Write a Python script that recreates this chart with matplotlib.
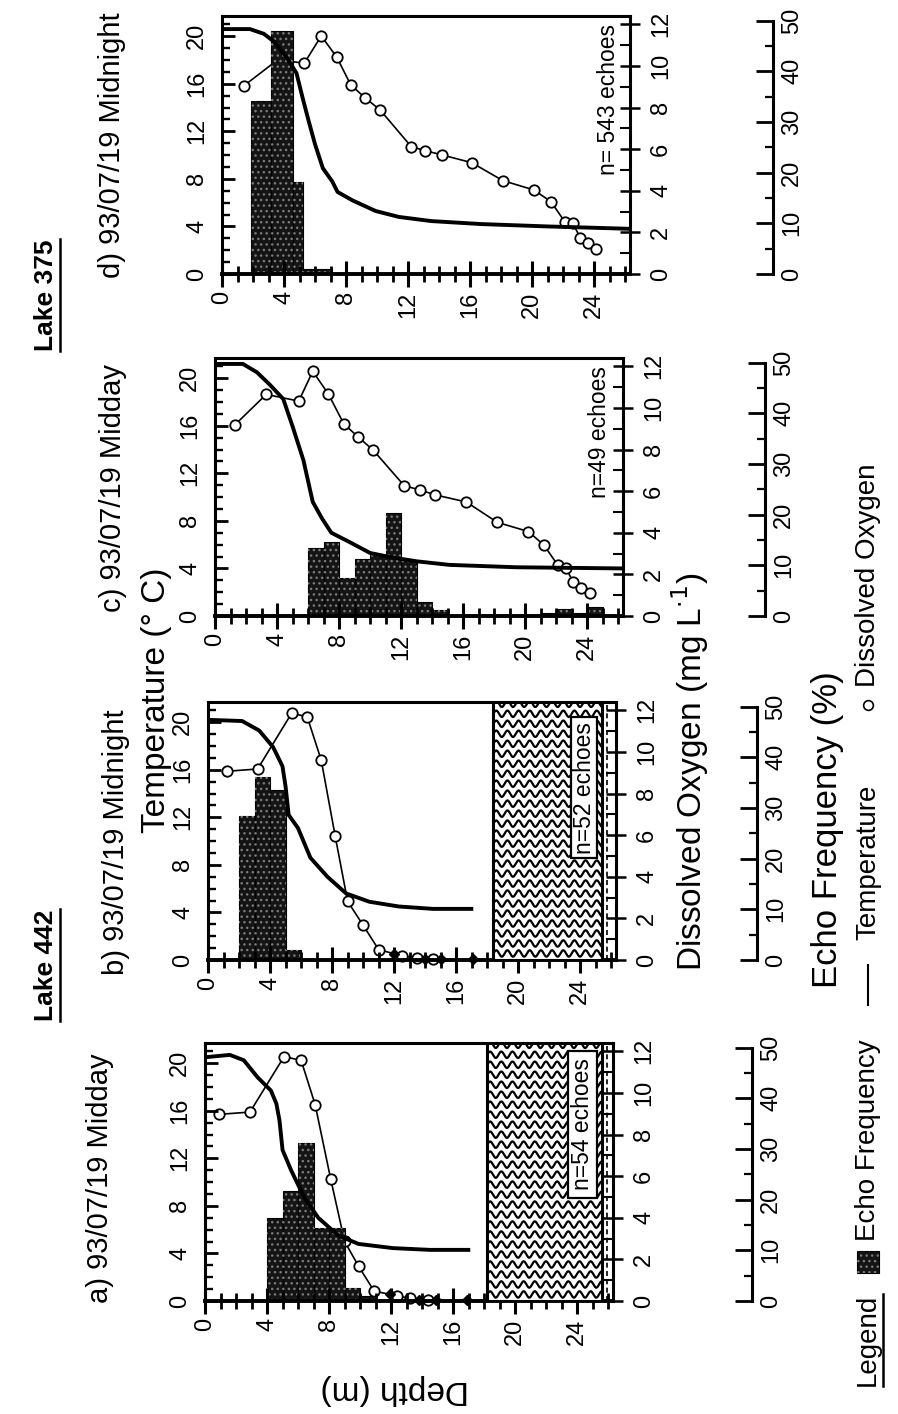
import numpy as np
import matplotlib
matplotlib.use("Agg")
import matplotlib.pyplot as plt
from matplotlib.patches import Rectangle
from matplotlib.lines import Line2D
from matplotlib.ticker import MultipleLocator

plt.rcParams['font.family'] = ['Liberation Sans', 'DejaVu Sans']
plt.rcParams['hatch.linewidth'] = 1.0

# ---------------- data ----------------
# Lake 442, midday (a)
a_temp_depth = [0.0, 1.6, 2.5, 3.4, 4.25, 4.6, 4.8, 5.0, 5.55, 6.4, 7.3, 8.6, 9.9, 12.1, 14.5, 17.1]
a_temp = [20.5, 20.7, 20.25, 18.8, 17.7, 16.6, 15.2, 12.7, 11.0, 8.7, 7.0, 5.5, 4.8, 4.45, 4.3, 4.3]
a_do_depth = [0.9, 2.9, 5.1, 6.2, 7.1, 8.1, 9.0, 9.9, 10.9, 12.4, 13.2, 14.4]
a_do = [8.97, 9.08, 11.75, 11.56, 9.44, 5.87, 2.86, 1.67, 0.48, 0.24, 0.13, 0.03]
a_anoxic_depth = [11.9, 13.8, 14.9, 16.9]
a_anoxic_do = [0.35, 0.05, 0.05, 0.05]
a_bin_lo = [4, 5, 6, 7, 8, 9, 10]
a_bin_hi = [5, 6, 7, 8, 9, 10, 11]
a_echo = [16.3, 21.8, 31.2, 14.4, 14.4, 2.6, 1.0]

# Lake 442, midnight (b)
b_temp_depth = [0.0, 2.2, 3.3, 4.2, 4.8, 5.0, 5.2, 5.8, 6.6, 7.7, 8.9, 10.4, 12.3, 14.5, 17.1]
b_temp = [20.2, 20.1, 19.3, 17.9, 16.3, 14.6, 12.2, 11.1, 8.6, 7.0, 5.6, 4.9, 4.5, 4.3, 4.3]
b_do_depth = [1.2, 3.2, 5.4, 6.4, 7.3, 8.2, 9.0, 10.0, 11.0, 12.5, 13.5, 14.5]
b_do = [9.07, 9.18, 11.87, 11.68, 9.6, 5.95, 2.82, 1.67, 0.5, 0.2, 0.1, 0.05]
b_anoxic_depth = [12.0, 14.0, 15.0, 17.1]
b_anoxic_do = [0.3, 0.05, 0.05, 0.05]
b_bin_lo = [2, 3, 4, 5]
b_bin_hi = [3, 4, 5, 6]
b_echo = [28.4, 36.1, 33.5, 2.0]

# Lake 375, midday (c)
c_temp_depth = [0.0, 1.8, 2.7, 3.5, 4.4, 5.0, 5.7, 6.3, 6.9, 7.5, 8.7, 10.0, 11.3, 13.0, 15.1, 19.4, 26.3]
c_temp = [21.2, 21.2, 20.5, 19.5, 18.25, 15.95, 13.1, 9.6, 8.2, 7.0, 6.2, 5.3, 4.95, 4.6, 4.3, 4.1, 4.0]
c_do_depth = [1.3, 3.3, 5.4, 6.3, 7.3, 8.3, 9.2, 10.2, 12.2, 13.2, 14.2, 16.2, 18.2, 20.2, 21.2,
              22.1, 22.6, 23.1, 23.6, 24.2]
c_do = [9.2, 10.65, 10.33, 11.76, 10.68, 9.24, 8.62, 7.97, 6.26, 6.06, 5.82, 5.48, 4.5, 4.06, 3.41,
        2.44, 2.33, 1.62, 1.35, 1.09]
c_bin_lo = [6, 7, 8, 9, 10, 11, 12, 13, 14, 21, 22, 23, 24]
c_bin_hi = [7, 8, 9, 10, 11, 12, 13, 14, 15, 22, 23, 24, 25]
c_echo = [13.4, 14.6, 7.5, 11.2, 12.0, 20.3, 10.8, 2.8, 1.2, 0.5, 1.3, 0.5, 1.8]

# Lake 375, midnight (d)
d_temp_depth = [0.0, 1.8, 2.7, 3.4, 4.15, 4.8, 5.2, 5.6, 6.0, 6.5, 7.1, 7.45, 8.4, 9.9, 11.4, 13.5,
                16.7, 21.0, 26.3]
d_temp = [20.6, 20.6, 20.2, 19.5, 18.25, 16.9, 14.8, 12.8, 10.9, 8.9, 7.8, 6.9, 6.2, 5.3, 4.8, 4.45,
          4.2, 4.0, 3.8]
d_do_depth = [1.4, 3.6, 5.3, 6.4, 7.4, 8.3, 9.2, 10.2, 12.2, 13.1, 14.2, 16.1, 18.1, 20.1, 21.2,
              22.1, 22.6, 23.1, 23.6, 24.1]
d_do = [9.04, 10.3, 10.13, 11.44, 10.42, 9.09, 8.48, 7.88, 6.12, 5.93, 5.72, 5.35, 4.49, 4.04, 3.48,
        2.51, 2.47, 1.72, 1.48, 1.19]
d_bin_lo = [1.85, 3.15, 4.55, 5.2]
d_bin_hi = [3.15, 4.55, 5.2, 7.1]
d_echo = [34.2, 47.9, 18.2, 1.0]

titles = ["a) 93/07/19 Midday", "b) 93/07/19 Midnight", "c) 93/07/19 Midday", "d) 93/07/19 Midnight"]
echo_counts = ["n=54 echoes", "n=52 echoes", "n=49 echoes", "n= 543 echoes"]
lake_names = ["Lake 442", "Lake 375"]
bottom_a = (18.2, 25.6)     # lake-bed zone, Lake 442 midday
bottom_b = (18.4, 25.4)     # lake-bed zone, Lake 442 midnight

depth_ticks = [0, 4, 8, 12, 16, 20, 24]
temp_ticks = [0, 4, 8, 12, 16, 20]
do_ticks = [0, 2, 4, 6, 8, 10, 12]
echo_ticks = [0, 10, 20, 30, 40, 50]

# ---------------- layout ----------------
W, H = 898, 1414
fig = plt.figure(figsize=(W / 100, H / 100), dpi=100)
fig.patch.set_facecolor('white')

DEPTH_MAX, TEMP_MAX, DO_MAX, ECHO_MAX = 26.3, 21.7, 12.4, 50.9
PW, PH = 408, 258
TICK_FS = 17
BAR_FACE, BAR_DOTS = '#141414', '#7a7a7a'


def px_rect(left, top, width, height):
    return [left / W, 1 - (top + height) / H, width / W, height / H]


def ftext(x, y, s, **kw):
    return fig.text(x / W, 1 - y / H, s, **kw)


def bar_style(ax, lo, hi, vals):
    widths = [h - l for l, h in zip(lo, hi)]
    ax.bar(lo, vals, width=widths, align='edge', color=BAR_FACE, edgecolor='black', linewidth=0.8)
    ax.bar(lo, vals, width=widths, align='edge', facecolor='none', edgecolor=BAR_DOTS,
           hatch='...', linewidth=0)


def rot_labels(labels, **kw):
    for lbl in labels:
        lbl.set_rotation(90)
        for k, v in kw.items():
            getattr(lbl, 'set_' + k)(v)


def wavy_zone(ax, zone):
    lo, hi = zone
    box = Rectangle((lo, 0), hi - lo, TEMP_MAX, facecolor='white', edgecolor='black',
                    linewidth=2.2, zorder=4)
    ax.add_patch(box)
    xs = np.linspace(lo, hi, 800)
    for yv in np.arange(0.55, TEMP_MAX, 0.84):
        ln, = ax.plot(xs, yv + 0.27 * np.sin(2 * np.pi * (xs - lo) / 0.72), color='black',
                      lw=1.6, zorder=5)
        ln.set_clip_path(box)
    ax.axvline(hi + 0.3, color='black', lw=1.2, ls=(0, (3, 2)), zorder=5)


def panel(left, top, echo_x, temp_d, temp_v, do_d, do_v, lo, hi, echo, count,
          anox=None, zone=None, box=None, label_pos=None):
    r = px_rect(left, top, PW, PH)
    ax_do = fig.add_axes(r, zorder=1)
    ax_e = fig.add_axes(r, zorder=2)
    ax_t = fig.add_axes(r, zorder=3)
    for ax in (ax_do, ax_e, ax_t):
        ax.set_xlim(0, DEPTH_MAX)
    for ax in (ax_e, ax_t):
        ax.patch.set_visible(False)

    # dissolved oxygen (right axis)
    ax_do.set_ylim(0, DO_MAX)
    for s in ('left', 'top', 'bottom'):
        ax_do.spines[s].set_visible(False)
    ax_do.spines['right'].set_linewidth(2.2)
    ax_do.set_xticks([])
    ax_do.yaxis.tick_right()
    ax_do.set_yticks(do_ticks)
    ax_do.yaxis.set_minor_locator(MultipleLocator(1))
    ax_do.tick_params(axis='y', which='major', direction='inout', length=15, width=1.8,
                      labelsize=TICK_FS, pad=7)
    ax_do.tick_params(axis='y', which='minor', direction='in', length=7, width=1.5)
    rot_labels(ax_do.yaxis.get_majorticklabels(), va='center')
    ax_do.plot(do_d, do_v, color='black', lw=1.2, marker='o', ms=7.5, mfc='white',
               mec='black', mew=1.3, clip_on=False)
    if anox is not None:
        ax_do.plot(anox[0], anox[1], ls='none', marker='D', ms=5.5, color='black', clip_on=False)

    # echo frequency bars
    ax_e.set_ylim(0, ECHO_MAX)
    ax_e.axis('off')
    bar_style(ax_e, lo, hi, echo)

    # temperature and frame
    ax_t.set_ylim(0, TEMP_MAX)
    ax_t.spines['right'].set_visible(False)
    for s in ('left', 'top'):
        ax_t.spines[s].set_linewidth(2.2)
    ax_t.spines['bottom'].set_linewidth(2.8)
    ax_t.plot(temp_d, temp_v, color='black', lw=2.8, solid_capstyle='butt', zorder=3)
    ax_t.set_xticks(depth_ticks)
    ax_t.set_xticklabels([str(v) for v in depth_ticks])
    ax_t.xaxis.set_minor_locator(MultipleLocator(1))
    ax_t.tick_params(axis='x', which='major', direction='inout', length=19, width=2.2,
                     labelsize=TICK_FS, pad=3)
    ax_t.tick_params(axis='x', which='minor', direction='inout', length=11, width=2.0)
    rot_labels(ax_t.xaxis.get_majorticklabels())
    ax_t.set_yticks(temp_ticks)
    ax_t.yaxis.set_minor_locator(MultipleLocator(1))
    ax_t.tick_params(axis='y', which='major', direction='in', length=9, width=2.0,
                     labelsize=TICK_FS, pad=10)
    ax_t.tick_params(axis='y', which='minor', direction='in', length=6, width=1.7)
    rot_labels(ax_t.yaxis.get_majorticklabels(), va='center')

    if zone is not None:
        wavy_zone(ax_t, zone)
    if box is not None:
        (x0, x1), (y0, y1) = box
        ax_t.add_patch(Rectangle((x0, y0), x1 - x0, y1 - y0, facecolor='white',
                                 edgecolor='black', lw=1.6, zorder=6))
        ax_t.text((x0 + x1) / 2, (y0 + y1) / 2, count, rotation=90, rotation_mode='anchor',
                  ha='center', va='center', fontsize=16.5, zorder=7)
    else:
        ax_t.text(label_pos[0], label_pos[1], count, rotation=90, rotation_mode='anchor',
                  ha='right', va='center', fontsize=16.5, zorder=7)

    # separate echo-frequency scale
    ax_s = fig.add_axes(px_rect(echo_x - 30, top, 30, PH))
    ax_s.set_ylim(0, ECHO_MAX)
    ax_s.patch.set_visible(False)
    for s in ('left', 'top', 'bottom'):
        ax_s.spines[s].set_visible(False)
    ax_s.spines['right'].set_linewidth(2.2)
    ax_s.spines['right'].set_bounds(0, 50)
    ax_s.set_xticks([])
    ax_s.yaxis.tick_right()
    ax_s.set_yticks(echo_ticks)
    ax_s.yaxis.set_minor_locator(MultipleLocator(5))
    ax_s.tick_params(axis='y', which='major', direction='in', length=12, width=2.0,
                     labelsize=TICK_FS, pad=6)
    ax_s.tick_params(axis='y', which='minor', direction='in', length=6, width=1.6)
    rot_labels(ax_s.yaxis.get_majorticklabels(), va='center')
    return ax_t


panel(205, 1043, 752, a_temp_depth, a_temp, a_do_depth, a_do, a_bin_lo, a_bin_hi, a_echo,
      echo_counts[0], anox=(a_anoxic_depth, a_anoxic_do), zone=bottom_a,
      box=((23.4, 25.3), (8.7, 21.0)))
panel(208, 702, 757, b_temp_depth, b_temp, b_do_depth, b_do, b_bin_lo, b_bin_hi, b_echo,
      echo_counts[1], anox=(b_anoxic_depth, b_anoxic_do), zone=bottom_b,
      box=((23.4, 25.1), (8.6, 20.4)))
panel(215, 358, 765, c_temp_depth, c_temp, c_do_depth, c_do, c_bin_lo, c_bin_hi, c_echo,
      echo_counts[2], label_pos=(24.8, 21.0))
panel(222, 16, 773, d_temp_depth, d_temp, d_do_depth, d_do, d_bin_lo, d_bin_hi, d_echo,
      echo_counts[3], label_pos=(24.9, 21.0))

# ---------------- titles and labels ----------------
rot = dict(rotation=90, rotation_mode='anchor', ha='center', va='center')
ftext(100, 1178, titles[0], fontsize=21, **rot)
ftext(116, 842, titles[1], fontsize=21, **rot)
ftext(113, 488, titles[2], fontsize=21, **rot)
ftext(112, 145, titles[3], fontsize=21, **rot)

lake_txt = [ftext(46, 965, lake_names[0], fontsize=19, fontweight='bold', **rot),
            ftext(46, 295, lake_names[1], fontsize=19, fontweight='bold', **rot)]

ftext(157, 700, "Temperature (\u00b0 C)", fontsize=24, **rot)
ftext(690, 772, "Dissolved Oxygen (mg L$^{\\cdot 1}$)", fontsize=24, **rot)
ftext(828, 830, "Echo Frequency (%)", fontsize=25, **rot)
ftext(395, 1390, "Depth (m)", fontsize=24, rotation=180, rotation_mode='anchor',
      ha='center', va='center')

# ---------------- legend ----------------
legend_txt = ftext(868, 1340, "Legend", fontsize=20, **rot)
sq_xy = ((868 - 11) / W, 1 - (1262 + 11) / H)
fig.add_artist(Rectangle(sq_xy, 22 / W, 22 / H, transform=fig.transFigure,
                         facecolor=BAR_FACE, edgecolor='black', lw=0.8))
fig.add_artist(Rectangle(sq_xy, 22 / W, 22 / H, transform=fig.transFigure, facecolor='none',
                         edgecolor=BAR_DOTS, hatch='...', lw=0))
ftext(868, 1140, "Echo Frequency", fontsize=20, **rot)
fig.add_artist(Line2D([868 / W, 868 / W], [1 - 1005 / H, 1 - 965 / H], color='black', lw=1.5,
                      transform=fig.transFigure))
ftext(868, 862, "Temperature", fontsize=20, **rot)
fig.add_artist(Line2D([868 / W], [1 - 705 / H], marker='o', ms=7, mfc='white', mec='black',
                      mew=1.2, ls='none', transform=fig.transFigure))
ftext(868, 575, "Dissolved Oxygen", fontsize=20, **rot)

# underline the headings (rotated text: underline runs along the right side)
fig.canvas.draw()
renderer = fig.canvas.get_renderer()
for t in lake_txt + [legend_txt]:
    bb = t.get_window_extent(renderer)
    xline = (bb.x1 + 2) / W
    fig.add_artist(Line2D([xline, xline], [bb.y0 / H, bb.y1 / H], color='black', lw=1.8,
                          transform=fig.transFigure))

fig.savefig("out.png", dpi=100, facecolor='white')
